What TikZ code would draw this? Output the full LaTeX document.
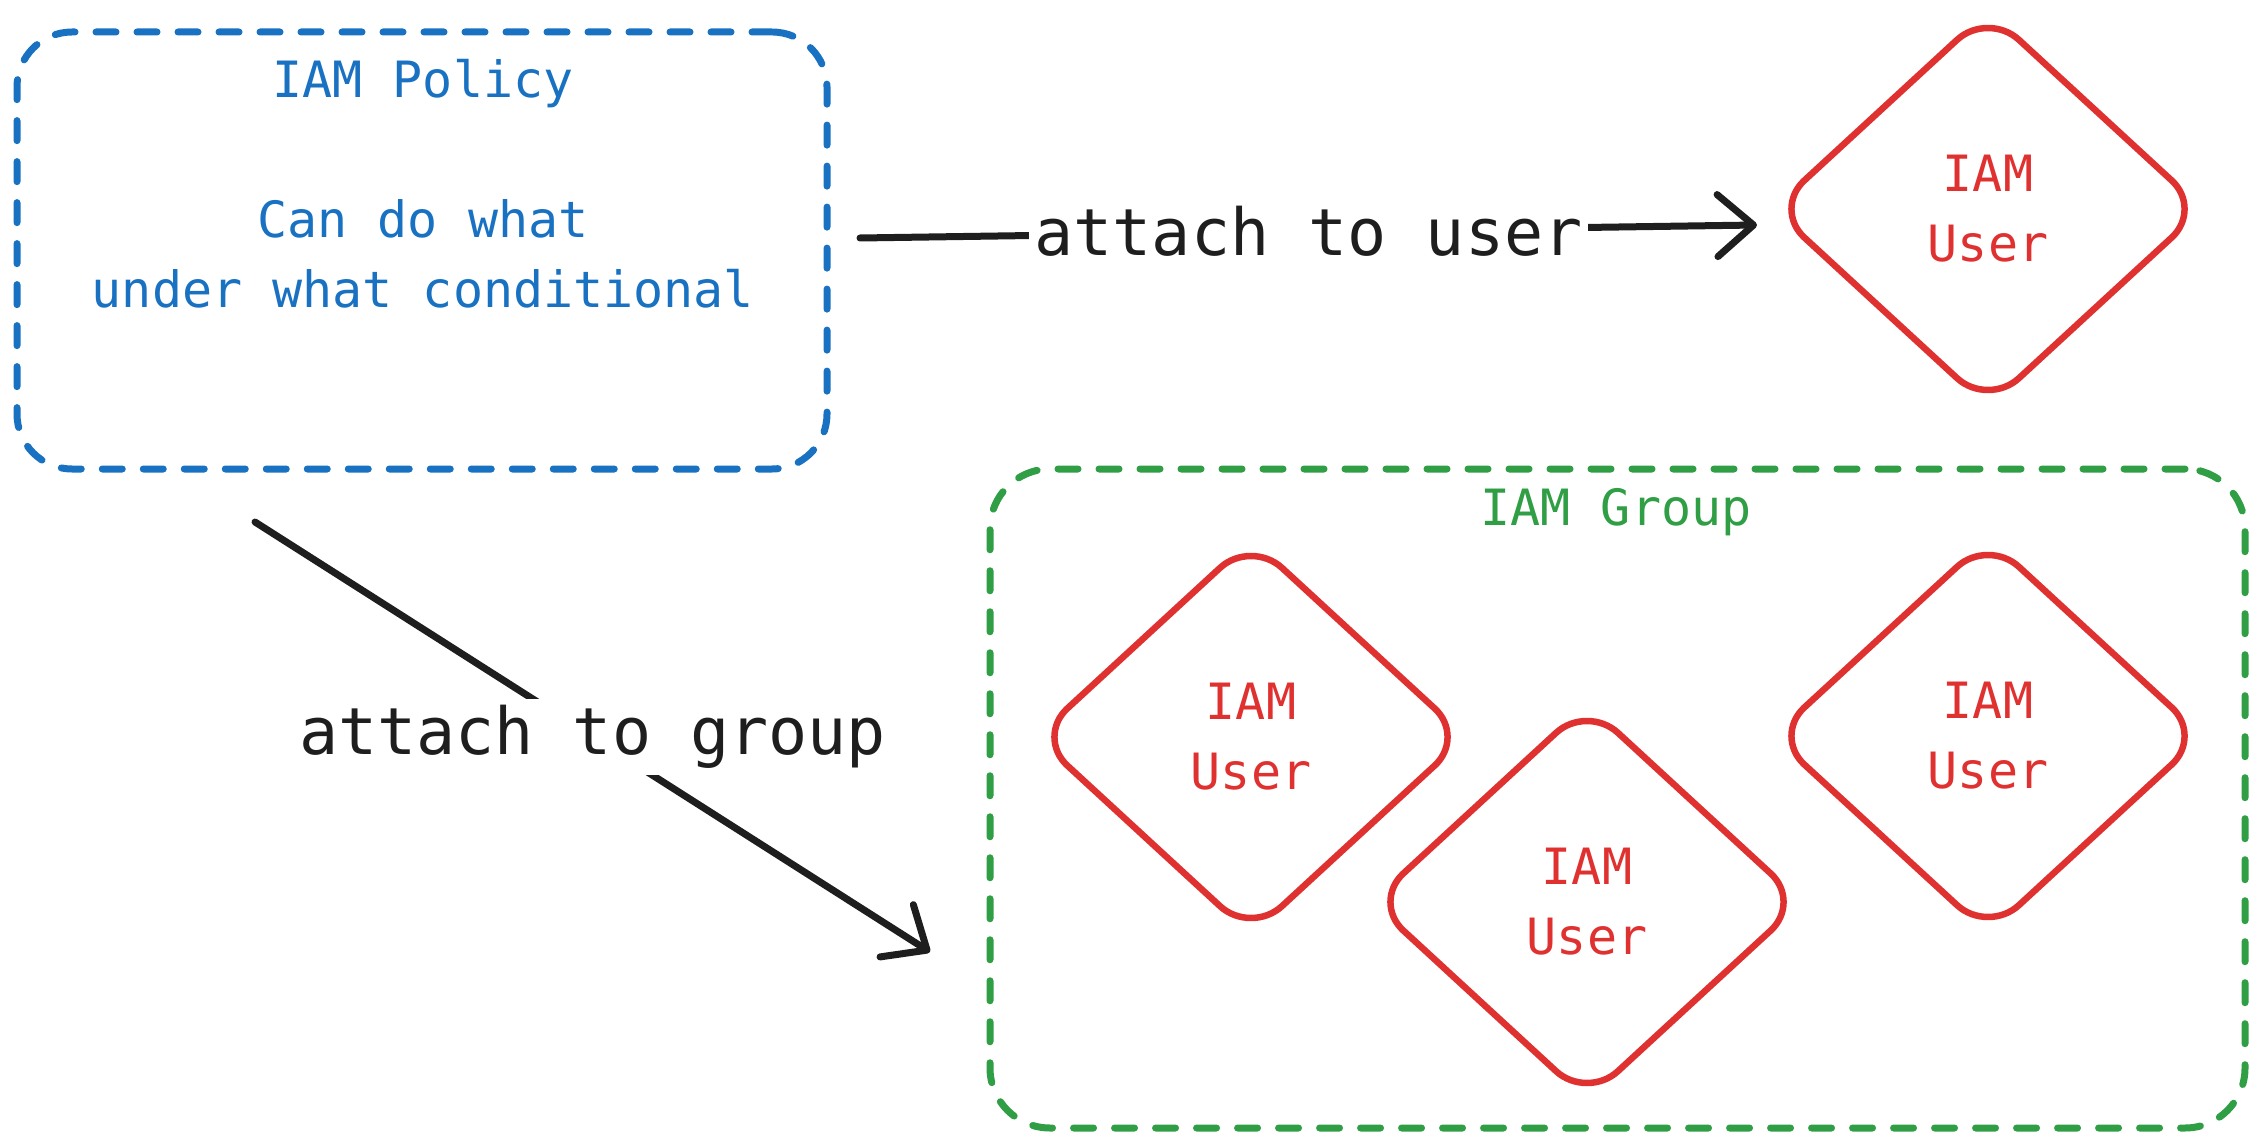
\documentclass[tikz,border=0pt]{standalone}
\usepackage{fontspec}
\setmainfont{DejaVu Sans Mono}
\usetikzlibrary{shapes.geometric,arrows.meta}
\definecolor{exblue}{HTML}{1971C2}
\definecolor{exred}{HTML}{E03131}
\definecolor{exgreen}{HTML}{2F9E44}
\definecolor{exblack}{HTML}{1E1E1E}
\tikzset{
  dashbox/.style={draw, line width=7pt, dash pattern=on 20pt off 21pt, line cap=round, rounded corners=55pt, inner sep=0pt},
  userd/.style={shape=diamond, draw=exred, line width=6.5pt, rounded corners=42pt, minimum width=432pt, minimum height=398pt, inner sep=0pt, text=exred, align=center, font=\fontsize{50}{70}\selectfont},
  smalltxt/.style={align=center, font=\fontsize{50}{70}\selectfont, inner sep=0pt},
  arr/.style={draw=exblack, line width=7pt, line cap=round, -{Straight Barb[length=36pt,width=62pt,round]}},
  lbl/.style={fill=white, text=exblack, font=\fontsize{65}{78}\selectfont, inner sep=6pt}
}
\begin{document}
\begin{tikzpicture}[x=1pt,y=-1pt]
\useasboundingbox (0,0) rectangle (2262,1147);
% policy box
\node[dashbox, draw=exblue, minimum width=810pt, minimum height=437pt] (pol) at (422,250.5) {};
\node[smalltxt, text=exblue] (poltxt) at (423,184) {IAM Policy\\[70pt]Can do what\\under what conditional};
% group box
\node[dashbox, draw=exgreen, minimum width=1255pt, minimum height=659pt, rounded corners=60pt] (grp) at (1617.5,798.5) {};
\node[smalltxt, text=exgreen] (grplbl) at (1616,512) {IAM Group};
% users
\node[userd] (u0) at (1988,209) {IAM\\User};
\node[userd] (u1) at (1251,737) {IAM\\User};
\node[userd] (u2) at (1587,902) {IAM\\User};
\node[userd] (u3) at (1988,736) {IAM\\User};
% arrows
\coordinate (ua) at (860,238);
\coordinate (ub) at (1757,225);
\coordinate (ga) at (255,522);
\coordinate (gb) at (930,952);
\draw[arr] (ua) -- node[lbl] (ulbl) {attach to user} (ub);
\draw[arr] (ga) -- node[lbl] (glbl) {attach to group} (gb);
\end{tikzpicture}
\end{document}
